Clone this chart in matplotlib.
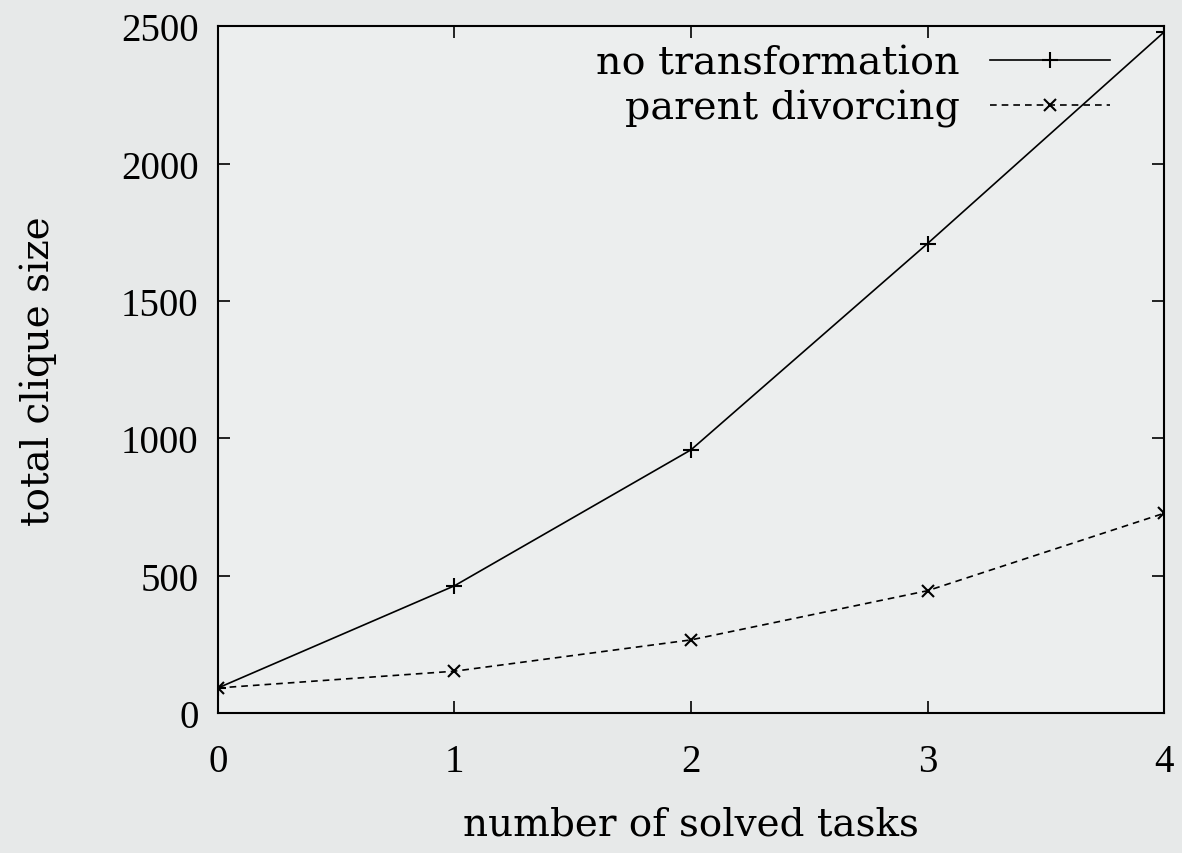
import numpy as np
import matplotlib
matplotlib.use("Agg")
import matplotlib.pyplot as plt

# data
tasks = [0, 1, 2, 3, 4]
no_transformation = [91, 463, 958, 1709, 2479]
parent_divorcing = [91, 152, 266, 445, 727]
y_ticks = [0, 500, 1000, 1500, 2000, 2500]

plt.rcParams['font.family'] = ['Liberation Serif', 'DejaVu Serif']
plt.rcParams['font.size'] = 28
wide = ['DejaVu Serif']

fig = plt.figure(figsize=(11.82, 8.54), dpi=100, facecolor='#e7e9e9')
ax = fig.add_axes([0.1844, 0.164, 0.8004, 0.804])
ax.set_facecolor('#eceeee')

ax.plot(tasks, no_transformation, color='black', lw=1.2, marker='+',
        markersize=11, mew=1.5, label='no transformation')
ax.plot(tasks, parent_divorcing, color='black', lw=1.2, ls=(0, (4, 3)),
        marker='x', markersize=9, mew=1.5, label='parent divorcing')

ax.set_xlim(0, 4)
ax.set_ylim(0, 2500)
ax.set_xticks(tasks)
ax.set_yticks(y_ticks)
ax.tick_params(direction='in', length=8.7, width=1.2, top=True, right=True, pad=14)
ax.tick_params(axis='x', pad=22)
for s in ax.spines.values():
    s.set_linewidth(1.5)

ax.set_xlabel('number of solved tasks', family=wide, fontsize=28)
ax.xaxis.set_label_coords(0.5, -0.135)
ax.set_ylabel('total clique size', family=wide, fontsize=28)
ax.yaxis.set_label_coords(-0.17, 0.5)

leg = ax.legend(loc='upper right', frameon=False, markerfirst=False,
                handlelength=3.03, borderaxespad=0, borderpad=0,
                labelspacing=0.19, handletextpad=0.76,
                prop={'family': wide, 'size': 28.5})
leg.set_bbox_to_anchor((0.943, 0.973), transform=ax.transAxes)

fig.savefig('out.png', dpi=100, facecolor=fig.get_facecolor())
